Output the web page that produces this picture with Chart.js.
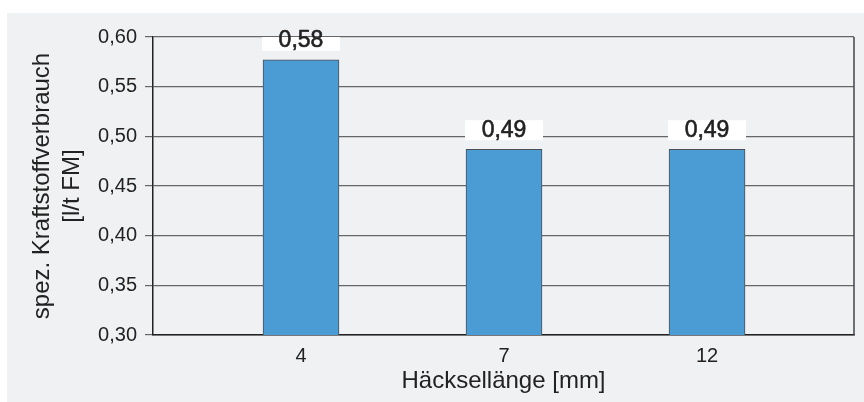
<!DOCTYPE html>
<html>
<head>
<meta charset="utf-8">
<script src="https://cdn.jsdelivr.net/npm/chart.js@4"></script>
<style>
  html, body { margin: 0; padding: 0; background: #fff; }
  #panel { position: absolute; left: 7px; top: 13px; width: 857px; height: 389px; background: #f0f1f3; }
</style>
</head>
<body>
<div id="panel"><canvas id="chart" width="857" height="389"></canvas></div>
<script>
const categories = ['4', '7', '12'];
const values = [0.577, 0.487, 0.487];
const yTitle = ['spez. Kraftstoffverbrauch', '[l/t FM]'];
const xTitle = 'Häcksellänge [mm]';

const fmt = v => v.toFixed(2).replace('.', ',');

// value labels above bars, with white box that breaks the grid line
const barLabels = {
  id: 'barLabels',
  afterDatasetsDraw(chart) {
    const ctx = chart.ctx;
    const area = chart.chartArea;
    chart.getDatasetMeta(0).data.forEach((bar, i) => {
      const cy = bar.y - 19;
      ctx.save();
      ctx.beginPath();
      ctx.rect(area.left, area.top, area.right - area.left, area.bottom - area.top);
      ctx.clip();
      ctx.fillStyle = '#fff';
      ctx.fillRect(bar.x - bar.width / 2 - 1, cy - 10, bar.width + 2, 20);
      ctx.restore();
      ctx.save();
      ctx.fillStyle = '#222';
      ctx.strokeStyle = '#222';
      ctx.lineWidth = 0.6;
      ctx.font = '23px "Liberation Sans", Arial, sans-serif';
      ctx.textAlign = 'center';
      ctx.textBaseline = 'middle';
      ctx.fillText(fmt(values[i]), bar.x, cy);
      ctx.strokeText(fmt(values[i]), bar.x, cy);
      ctx.restore();
    });
  },
  afterDraw(chart) {
    const ctx = chart.ctx;
    const a = chart.chartArea;
    ctx.save();
    ctx.strokeStyle = '#444';
    ctx.lineWidth = 1.5;
    ctx.beginPath();
    ctx.moveTo(a.right, a.top);
    ctx.lineTo(a.right, a.bottom);
    ctx.stroke();
    ctx.restore();
  }
};

Chart.defaults.font.family = '"Liberation Sans", Arial, sans-serif';
Chart.defaults.color = '#222';

new Chart(document.getElementById('chart'), {
  type: 'bar',
  data: {
    datasets: [{
      data: values.map((v, i) => ({ x: i, y: v })),
      backgroundColor: '#4b9cd4',
      borderColor: '#4a4f55',
      borderWidth: 1,
      barThickness: 76
    }]
  },
  options: {
    responsive: false,
    animation: false,
    layout: { padding: { left: 0, top: 24, right: 10, bottom: 0 } },
    plugins: { legend: { display: false }, tooltip: { enabled: false } },
    scales: {
      x: {
        type: 'linear',
        offset: false,
        min: -0.729,
        max: 2.724,
        afterBuildTicks: s => { s.ticks = s.ticks.filter(t => Number.isInteger(t.value) && t.value >= 0 && t.value < categories.length); },
        afterFit: s => { s.height = 67; },
        grid: { display: false, drawTicks: false, offset: false },
        border: { color: '#222', width: 1.5 },
        ticks: { autoSkip: false, maxRotation: 0, padding: 9, font: { size: 20 }, callback: v => categories[v] },
        title: { display: true, text: xTitle, font: { size: 24 }, padding: { top: 0, bottom: 6 } }
      },
      y: {
        min: 0.30,
        max: 0.60,
        afterFit: s => { s.width = 146; },
        grid: { color: '#666', lineWidth: 1.2, tickLength: 8 },
        border: { color: '#222', width: 1.5 },
        ticks: { stepSize: 0.05, padding: 8, font: { size: 20 }, callback: v => fmt(v) },
        title: { display: true, text: yTitle, font: { size: 24, lineHeight: 1.25 }, padding: { top: 20 } }
      }
    }
  },
  plugins: [barLabels]
});
</script>
</body>
</html>
